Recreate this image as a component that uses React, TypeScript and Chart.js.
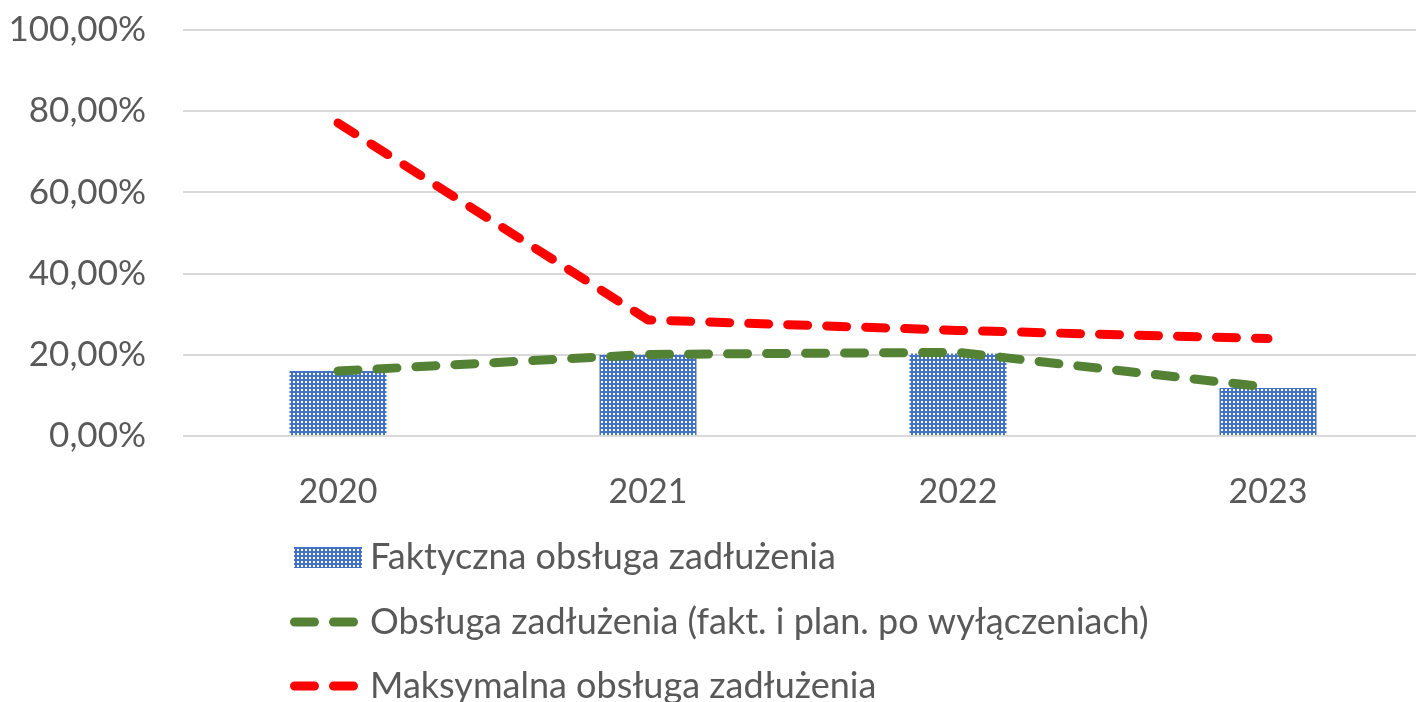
import { useEffect, useRef } from 'react';
import { Chart, registerables } from 'chart.js';

Chart.register(...registerables);

const categories = ['2020', '2021', '2022', '2023'];
const actualDebtService = [16.0, 20.0, 20.3, 11.8];
const adjustedDebtService = [16.0, 20.1, 20.6, 12.0];
const maxDebtService = [77.1, 28.6, 26.0, 24.0];
const yTickValues = [0, 20, 40, 60, 80, 100];
const seriesLabels = [
  'Faktyczna obsługa zadłużenia',
  'Obsługa zadłużenia (fakt. i plan. po wyłączeniach)',
  'Maksymalna obsługa zadłużenia',
];

const FONT = 'Lato, "Open Sans", sans-serif';
const TEXT = '#595959';

function makePattern(): CanvasPattern | string {
  const c = document.createElement('canvas');
  c.width = 4;
  c.height = 4;
  const g = c.getContext('2d');
  if (!g) return '#4472C4';
  g.fillStyle = '#4472C4';
  g.fillRect(0, 0, 4, 4);
  g.fillStyle = '#ffffff';
  g.fillRect(1, 1, 2, 2);
  const p = g.createPattern(c, 'repeat');
  return p || '#4472C4';
}

export default function App() {
  const ref = useRef<HTMLCanvasElement | null>(null);

  useEffect(() => {
    document.body.style.margin = '0';
    document.body.style.overflow = 'hidden';
    const canvas = ref.current;
    if (!canvas) return;
    const pattern = makePattern();

    const legendPlugin = {
      id: 'customLegend',
      afterDraw(chart: any) {
        const ctx = chart.ctx as CanvasRenderingContext2D;
        const rows = [557, 622, 686];
        ctx.save();
        chart.data.datasets.forEach((ds: any, i: number) => {
          const y = rows[i];
          if (ds.type === 'bar') {
            ctx.fillStyle = pattern as any;
            ctx.fillRect(294, y - 10, 68, 21);
          } else {
            ctx.strokeStyle = ds.borderColor;
            ctx.lineWidth = 9;
            ctx.lineCap = 'round';
            ctx.setLineDash([20, 19]);
            ctx.beginPath();
            ctx.moveTo(294.5, y);
            ctx.lineTo(353.5, y);
            ctx.stroke();
            ctx.setLineDash([]);
          }
          ctx.fillStyle = TEXT;
          ctx.font = `36px ${FONT}`;
          ctx.textBaseline = 'middle';
          ctx.textAlign = 'left';
          ctx.fillText(ds.label, 370, y);
        });
        ctx.restore();
      },
    };

    const chart = new Chart(canvas, {
      type: 'bar',
      data: {
        labels: categories,
        datasets: [
          {
            type: 'bar',
            label: seriesLabels[0],
            data: actualDebtService,
            backgroundColor: pattern as any,
            borderWidth: 0,
            barPercentage: 1,
            categoryPercentage: 0.313,
            order: 2,
          },
          {
            type: 'line',
            label: seriesLabels[1],
            data: adjustedDebtService,
            borderColor: '#548235',
            borderWidth: 9,
            borderDash: [20, 19],
            borderCapStyle: 'round',
            borderJoinStyle: 'round',
            pointRadius: 0,
            tension: 0,
            fill: false,
            order: 1,
          },
          {
            type: 'line',
            label: seriesLabels[2],
            data: maxDebtService,
            borderColor: '#FF0000',
            borderWidth: 9,
            borderDash: [20, 19],
            borderCapStyle: 'round',
            borderJoinStyle: 'round',
            pointRadius: 0,
            tension: 0,
            fill: false,
            order: 0,
          },
        ] as any,
      },
      options: {
        animation: false,
        responsive: true,
        maintainAspectRatio: false,
        layout: { padding: { top: 30, right: 0, left: 0, bottom: 0 } },
        plugins: {
          legend: { display: false },
          tooltip: { enabled: false },
        },
        scales: {
          x: {
            grid: { display: false },
            border: { display: false },
            ticks: { color: TEXT, font: { family: FONT, size: 34 }, padding: 28 },
            afterFit(scale: any) {
              scale.height = 266;
            },
          },
          y: {
            min: 0,
            max: 100,
            afterBuildTicks(scale: any) {
              scale.ticks = yTickValues.map((v) => ({ value: v }));
            },
            ticks: {
              color: TEXT,
              font: { family: FONT, size: 35 },
              padding: 0,
              callback: (v: any) => Number(v).toFixed(2).replace('.', ',') + '%',
            },
            grid: {
              color: '#D9D9D9',
              lineWidth: 2,
              drawTicks: true,
              tickLength: 37,
              tickColor: 'rgba(0,0,0,0)',
            },
            border: { display: false },
            afterFit(scale: any) {
              scale.width = 183;
            },
          },
        },
      },
      plugins: [legendPlugin],
    });
    return () => chart.destroy();
  }, []);

  return (
    <div style={{ width: 1423, height: 702, position: 'relative' }}>
      <canvas ref={ref} />
    </div>
  );
}
